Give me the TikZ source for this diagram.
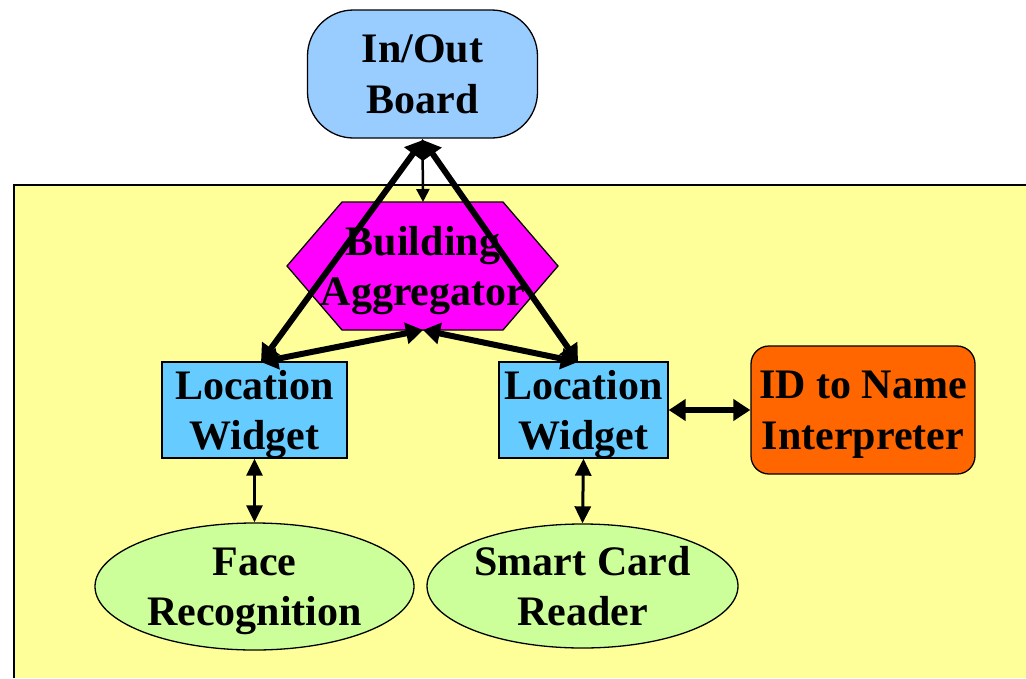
\documentclass[tikz,border=0pt]{standalone}
\usepackage{fontspec}
\setmainfont{Liberation Serif}
\usetikzlibrary{arrows.meta,shapes.geometric}
\definecolor{boardblue}{HTML}{99CCFF}
\definecolor{areayellow}{HTML}{FFFF99}
\definecolor{hexmag}{HTML}{FF00FF}
\definecolor{lwblue}{HTML}{66CCFF}
\definecolor{idorange}{HTML}{FF6600}
\definecolor{ellgreen}{HTML}{CCFF99}
\begin{document}
\begin{tikzpicture}[x=1pt,y=-1pt,
  lbl/.style={font=\bfseries\fontsize{42}{50.5}\selectfont, align=center, inner sep=0pt, text depth=0pt},
  outline/.style={draw=black, line width=1.3pt},
  lwbox/.style={lbl, outline, fill=lwblue, minimum height=96pt},
  ellnode/.style={lbl, outline, ellipse, fill=ellgreen},
  thinarr/.style={line width=2.5pt, {Triangle[length=13pt,width=13pt]}-{Triangle[length=13pt,width=13pt]}},
  midarr/.style={line width=3pt, {Triangle[length=17pt,width=16pt]}-{Triangle[length=17pt,width=16pt]}},
  thickarr/.style={line width=6pt, {Triangle[length=17pt,width=21pt]}-{Triangle[length=17pt,width=21pt]}}]
\useasboundingbox (0,0) rectangle (1026,678);
% yellow area
\fill[areayellow] (14,185) rectangle (1026,678);
\draw[line width=1.3pt] (14,678) -- (14,185) -- (1026,185);
% board
\node[lbl, outline, fill=boardblue, minimum width=230pt, minimum height=128pt, rounded corners=46pt] (board) at (422.5,74) {In/Out\\Board};
% hexagon
\draw[outline, fill=hexmag] (287,266) -- (342,202) -- (503,202) -- (558,266) -- (503,330) -- (342,330) -- cycle;
\node[lbl] (agg) at (423,266) {Building\\Aggregator};
\coordinate (aggtop) at (423,202);
\coordinate (aggbot) at (423,330);
% widgets
\node[lwbox, minimum width=185pt] (lw1) at (254.5,410) {Location\\Widget};
\node[lwbox, minimum width=169pt] (lw2) at (583.5,410) {Location\\Widget};
\node[lbl, outline, fill=idorange, minimum width=224pt, minimum height=128pt, rounded corners=18pt] (id) at (863,410) {ID to Name\\Interpreter};
% ellipses
\node[ellnode, minimum width=319pt, minimum height=127pt] (face) at (254.5,586.5) {Face\\Recognition};
\node[ellnode, minimum width=311pt, minimum height=124pt] (card) at (582.5,586) {Smart Card\\Reader};
% connector end points
\coordinate (bb) at (423,140);
\coordinate (lw1tip) at (261,362);
\coordinate (lw2tip) at (578,362);
% connectors
\draw[thinarr] (board.south) -- (aggtop);
\draw[thickarr] (bb) -- (lw1tip);
\draw[thickarr] (bb) -- (lw2tip);
\draw[thickarr] (aggbot) -- (lw1tip);
\draw[thickarr] (aggbot) -- (lw2tip);
\draw[midarr] (lw1.south) -- (face.north);
\draw[midarr] (lw2.south) -- (card.north);
\draw[thickarr] (lw2.east) -- (id.west);
\end{tikzpicture}
\end{document}
